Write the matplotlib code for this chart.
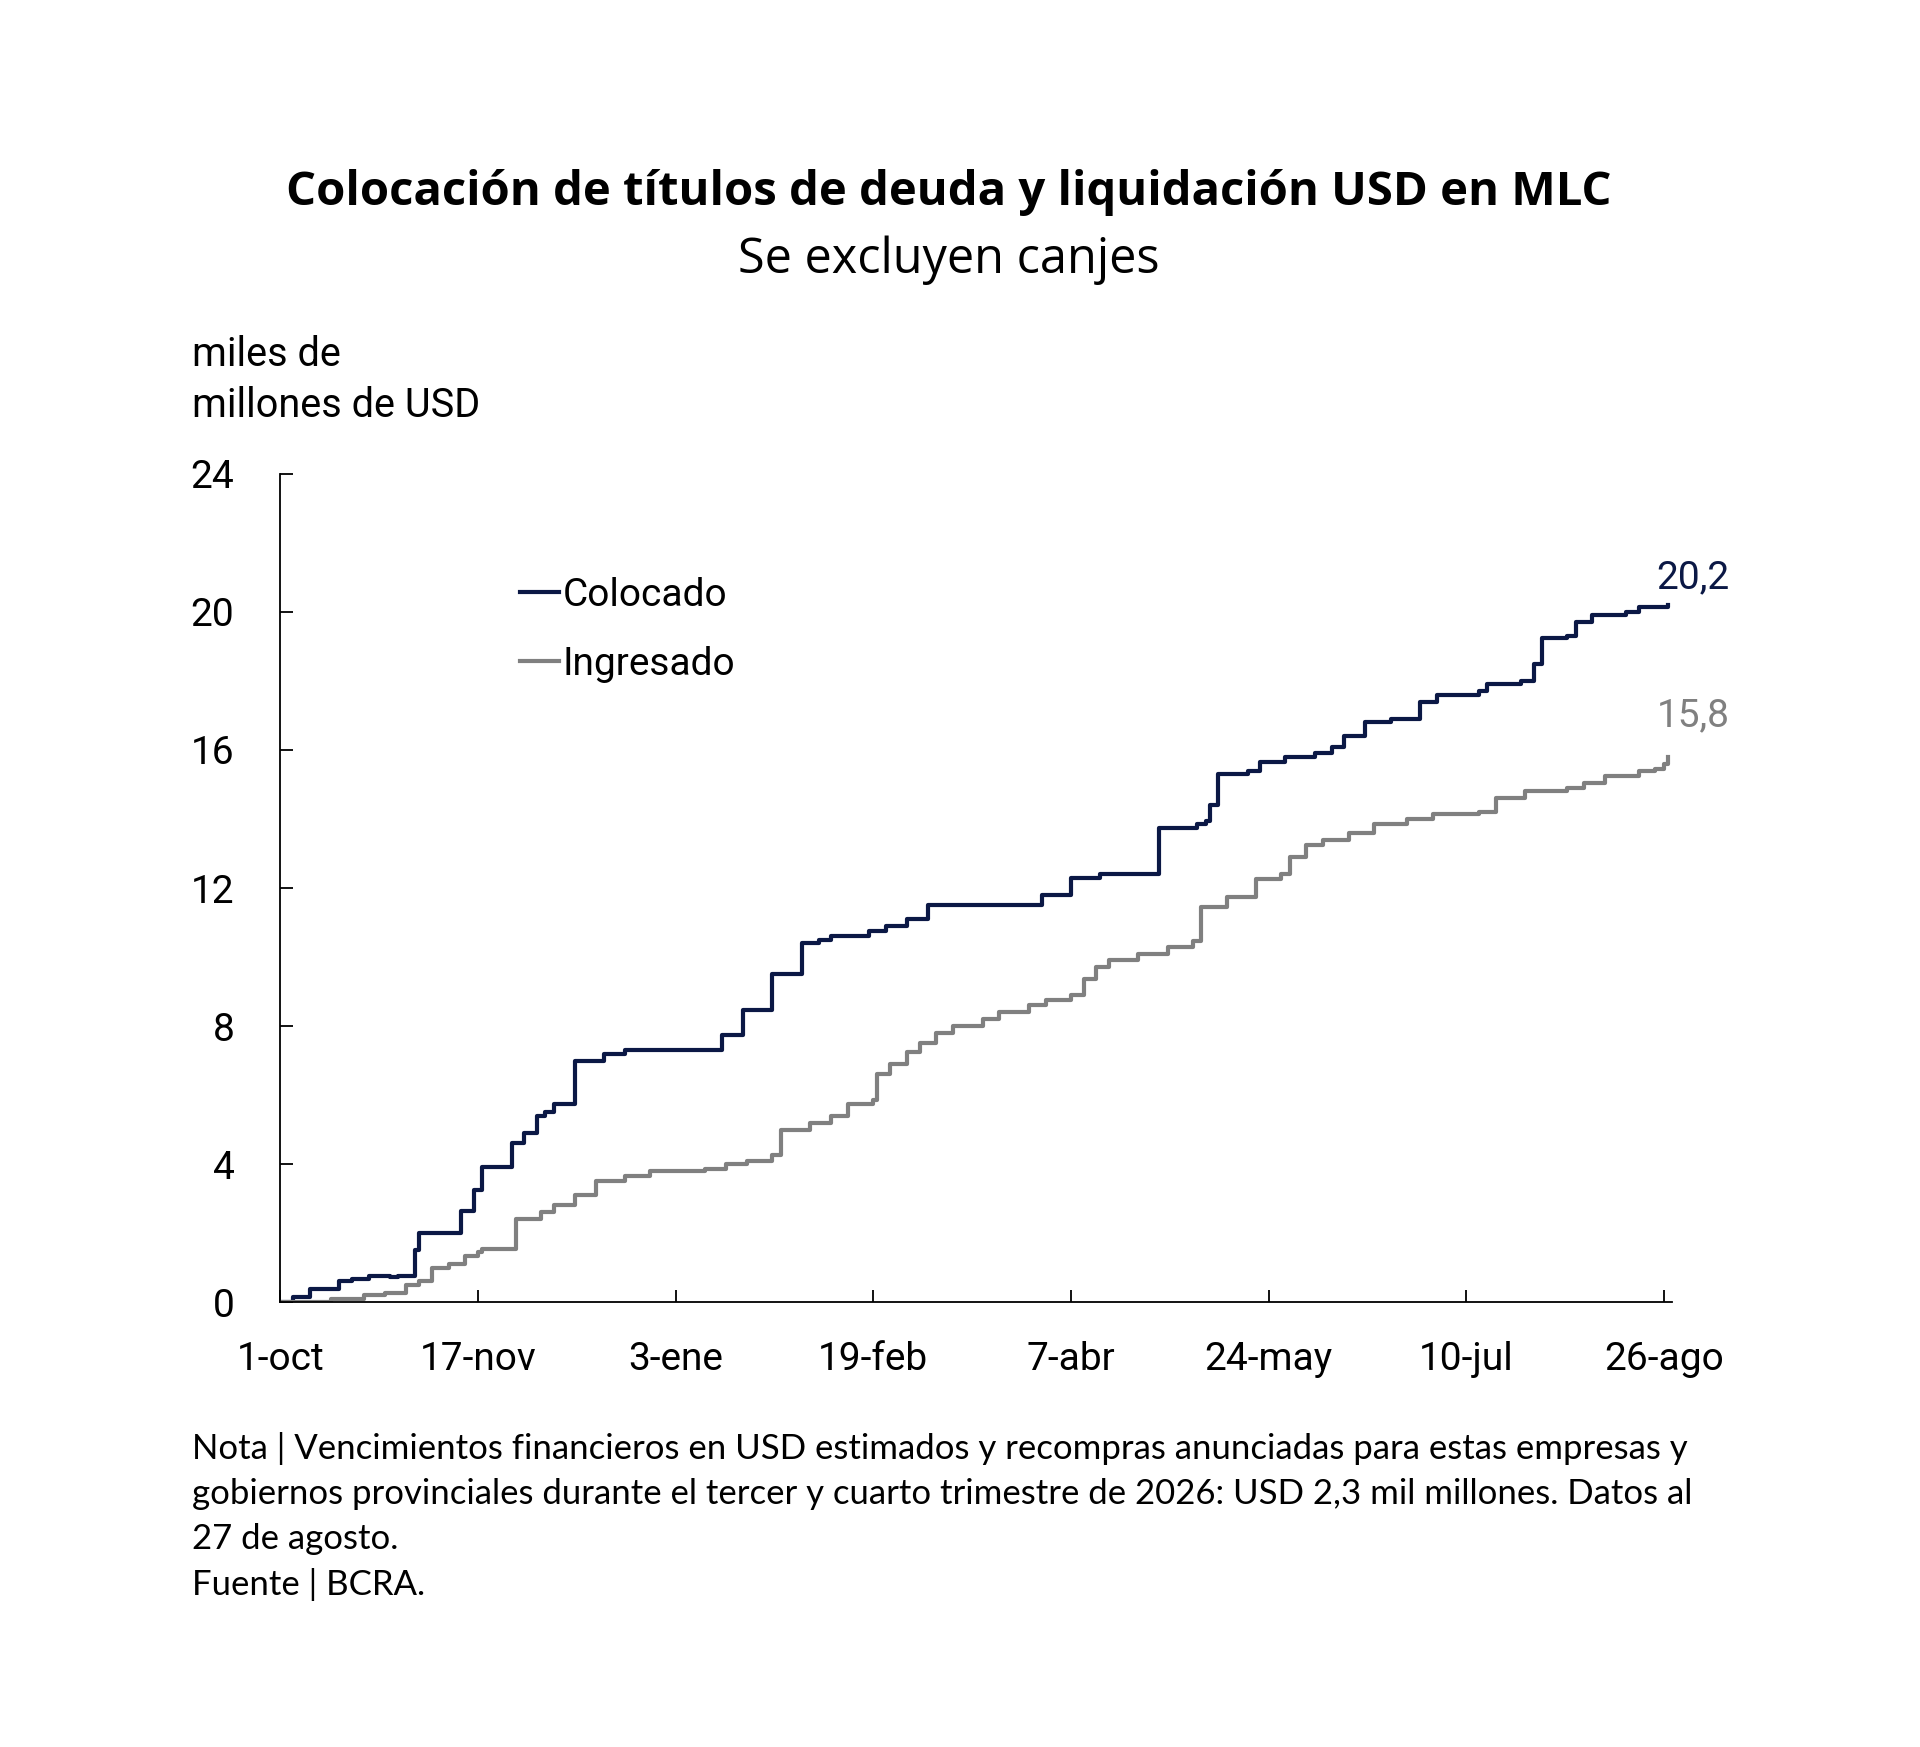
import matplotlib.pyplot as plt

# días desde el 1-oct y valores acumulados (miles de millones de USD)
colocado_dias = [0, 3, 7, 14, 17, 21, 26, 28, 32, 33, 43, 46, 48, 55, 58, 61, 63, 65, 70, 77,
                 82, 105, 110, 117, 124, 128, 131, 140, 144, 149, 154, 181, 188, 195, 209, 218,
                 220, 221, 223, 230, 233, 239, 246, 250, 253, 258, 264, 271, 275, 285, 287, 295,
                 298, 300, 306, 308, 312, 320, 323, 330]
colocado = [0, 0.15, 0.38, 0.6, 0.67, 0.75, 0.72, 0.75, 1.5, 2.0, 2.65, 3.25, 3.9, 4.6, 4.9, 5.4,
            5.5, 5.75, 7.0, 7.2, 7.3, 7.75, 8.45, 9.5, 10.4, 10.5, 10.6, 10.75, 10.9, 11.1, 11.5,
            11.8, 12.3, 12.4, 13.75, 13.85, 13.95, 14.4, 15.3, 15.4, 15.65, 15.8, 15.9, 16.1,
            16.4, 16.8, 16.9, 17.4, 17.6, 17.7, 17.9, 18.0, 18.5, 19.25, 19.3, 19.7, 19.9, 20.0,
            20.15, 20.2]

ingresado_dias = [0, 12, 20, 25, 30, 33, 36, 40, 44, 47, 48, 56, 62, 65, 70, 75, 82, 88, 101,
                  106, 111, 117, 119, 126, 131, 135, 141, 142, 145, 149, 152, 156, 160, 167, 171,
                  178, 182, 188, 191, 194, 197, 204, 211, 217, 219, 225, 232, 238, 240, 244, 248,
                  254, 260, 268, 274, 285, 289, 296, 306, 310, 315, 323, 327, 329, 330]
ingresado = [0, 0.1, 0.2, 0.25, 0.5, 0.6, 1.0, 1.1, 1.33, 1.45, 1.55, 2.4, 2.6, 2.8, 3.1, 3.5,
             3.65, 3.8, 3.85, 4.0, 4.1, 4.25, 5.0, 5.2, 5.4, 5.75, 5.85, 6.6, 6.9, 7.25, 7.5, 7.8,
             8.0, 8.2, 8.4, 8.6, 8.75, 8.9, 9.35, 9.7, 9.9, 10.1, 10.3, 10.45, 11.45, 11.75,
             12.25, 12.4, 12.9, 13.25, 13.4, 13.6, 13.85, 14.0, 14.15, 14.2, 14.6, 14.8, 14.9,
             15.05, 15.25, 15.4, 15.45, 15.6, 15.8]

tick_dias = [0, 47, 94, 141, 188, 235, 282, 329]
tick_labels = ['1-oct', '17-nov', '3-ene', '19-feb', '7-abr', '24-may', '10-jul', '26-ago']
y_ticks = [0, 4, 8, 12, 16, 20, 24]

azul = '#0b1845'
gris = '#808080'

fig = plt.figure(figsize=(19.2, 17.47), dpi=100)
ax = fig.add_axes([0.146, 0.2547, 0.725, 0.474])

ax.plot(colocado_dias, colocado, drawstyle='steps-post', color=azul, lw=3.0, label='Colocado')
ax.plot(ingresado_dias, ingresado, drawstyle='steps-post', color=gris, lw=3.0, label='Ingresado')

ax.set_xlim(0, 331)
ax.set_ylim(0, 24)
ax.set_xticks(tick_dias)
ax.set_xticklabels(tick_labels)
ax.set_yticks(y_ticks)
for s in ['top', 'right']:
    ax.spines[s].set_visible(False)
for s in ['left', 'bottom']:
    ax.spines[s].set_linewidth(1.3)
ax.tick_params(axis='both', direction='in', length=9, width=1.3, labelsize=28)
ax.tick_params(axis='y', pad=33)
ax.tick_params(axis='x', pad=28)
for lab in ax.get_xticklabels() + ax.get_yticklabels():
    lab.set_family('Roboto')

leg = ax.legend(loc='upper left', bbox_to_anchor=(0.172, 0.876), frameon=False,
                prop={'family': 'Roboto', 'size': 28}, handlelength=1.0, handletextpad=0.1,
                borderpad=0, borderaxespad=0, labelspacing=0.82)

ax.text(336, 21.0, '20,2', color=azul, fontsize=28, family='Roboto', ha='center', va='center')
ax.text(336, 17.0, '15,8', color=gris, fontsize=28, family='Roboto', ha='center', va='center')

fig.text(0.494, 0.890, 'Colocación de títulos de deuda y liquidación USD en MLC',
         fontsize=34, fontweight='bold', family='Open Sans', ha='center', va='center')
fig.text(0.494, 0.851, 'Se excluyen canjes', fontsize=35, family='Open Sans',
         ha='center', va='center')

fig.text(0.100, 0.797, 'miles de', fontsize=28.5, family='Roboto', va='center')
fig.text(0.100, 0.768, 'millones de USD', fontsize=28.5, family='Roboto', va='center')

nota = ['Nota | Vencimientos financieros en USD estimados y recompras anunciadas para estas empresas y',
        'gobiernos provinciales durante el tercer y cuarto trimestre de 2026: USD 2,3 mil millones. Datos al',
        '27 de agosto.',
        'Fuente | BCRA.']
for i, linea in enumerate(nota):
    fig.text(0.100, 0.1707 - i * 0.0259, linea, fontsize=25, family='Lato', va='center')

fig.savefig('out.png', dpi=100, facecolor='white')
